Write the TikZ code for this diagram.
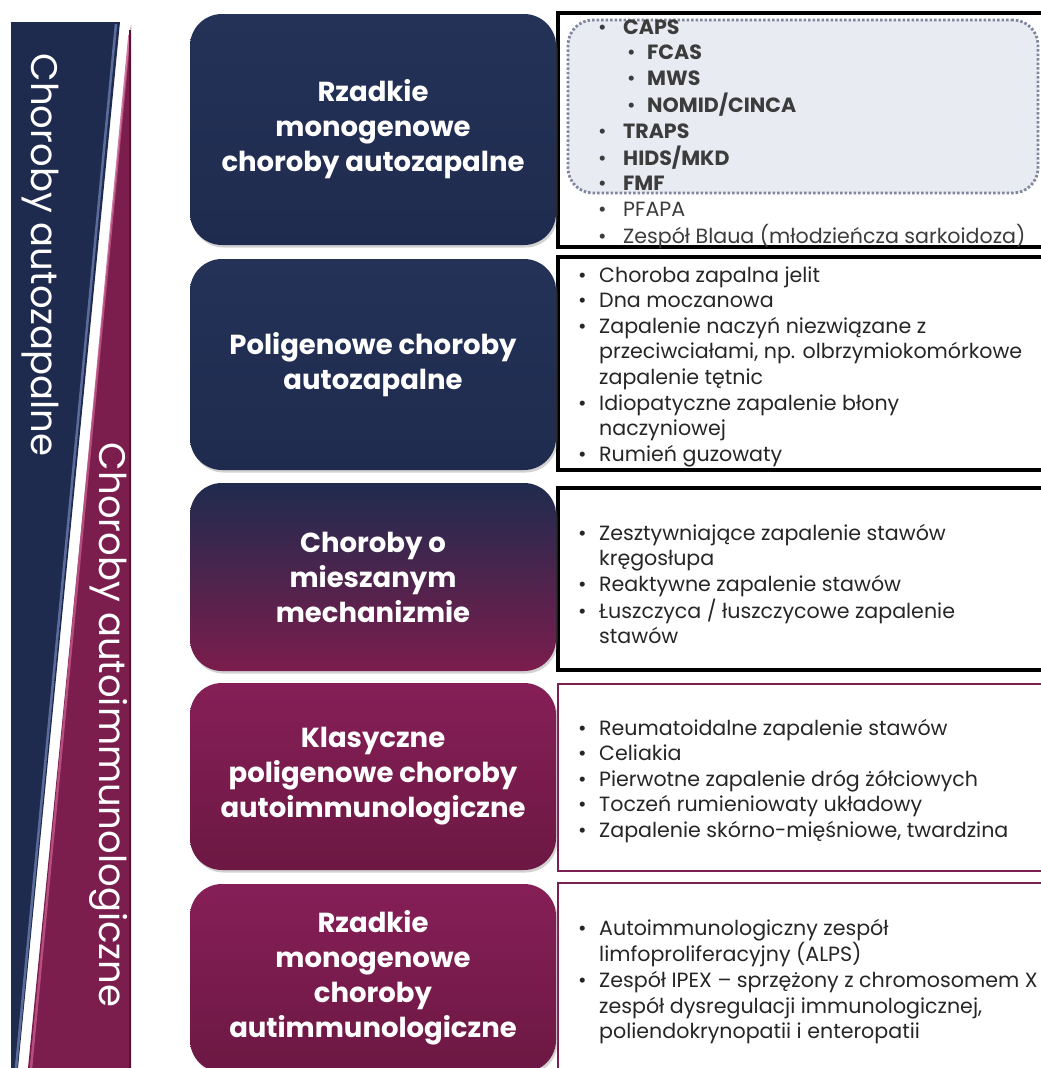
\documentclass[tikz,border=0pt]{standalone}
\usepackage{fontspec}
\setmainfont{Poppins}
\usetikzlibrary{shadows}
\definecolor{navy}{HTML}{1F2B4E}
\definecolor{navytop}{HTML}{243258}
\definecolor{navyhi}{HTML}{6A7DAE}
\definecolor{mag}{HTML}{7B1D4D}
\definecolor{magtop}{HTML}{861F57}
\definecolor{magbot}{HTML}{6C1843}
\definecolor{maghi}{HTML}{C45A8C}
\definecolor{magdk}{HTML}{571235}
\definecolor{dotfill}{HTML}{E9EBF3}
\definecolor{dotline}{HTML}{7F879E}
\definecolor{txt}{HTML}{262626}
\definecolor{txtb}{HTML}{3C3C3C}
\definecolor{magline}{HTML}{7A2050}
\newcommand\bi[1]{\makebox[21pt][l]{\textbullet}#1}
\newcommand\ci[1]{\hspace{21pt}#1}
\newcommand\bj[1]{\makebox[25pt][l]{\textbullet}#1}
\newcommand\sj[1]{\hspace{29pt}\makebox[20pt][l]{\textbullet}#1}
\begin{document}
\begin{tikzpicture}[x=1pt,y=-1pt,
  leftbox/.style={rounded corners=32pt, inner sep=0pt, align=center,
    text=white, font=\fontsize{27.5}{35}\selectfont\bfseries,
    drop shadow={opacity=0.35, shadow xshift=1.5pt, shadow yshift=-2.5pt}},
  navybox/.style={leftbox, top color=navytop, bottom color=navy},
  magbox/.style={leftbox, top color=magtop, bottom color=magbot},
  mixbox/.style={leftbox, top color=navy, bottom color=mag, middle color=mag!50!navy},
  rbox/.style={draw=black, line width=3.2pt, fill=white, inner sep=0pt},
  rboxm/.style={draw=magline, line width=2.6pt, fill=white, inner sep=0pt},
  list/.style={anchor=base west, inner sep=0pt, align=left, text=txt,
    font=\fontsize{20.6}{25.6}\selectfont},
  band/.style={rotate=-90, text=white, font=\fontsize{37}{37}\selectfont, inner sep=0pt}]
\useasboundingbox (0,0) rectangle (1041,1068);
\clip (0,0) rectangle (1041,1068);
\fill[white] (0,0) rectangle (1041,1068);

% left bands
\fill[navy] (11,22) -- (120,22) -- (18,1068) -- (11,1068) -- cycle;
\draw[navyhi, line width=2.5pt, opacity=0.8] (116,24) -- (16,1068);
\fill[mag] (131,25) -- (131,1068) -- (28,1068) -- cycle;
\draw[maghi, line width=2.5pt, opacity=0.8] (129.5,35) -- (31,1068);
\draw[magdk, line width=2.5pt] (129.8,30) -- (129.8,1068);
\node[band] (T1) at (40,255) {Choroby autozapalne};
\node[band] (T2) at (109,725) {Choroby autoimmunologiczne};

% right boxes
\node[rbox, minimum width=492pt, minimum height=234pt] (R1) at (804,130) {};
\node[rbox, minimum width=492pt, minimum height=213pt] (R2) at (804,363.5) {};
\node[rbox, minimum width=492pt, minimum height=182pt] (R3) at (804,579) {};
\node[rboxm, minimum width=492pt, minimum height=187pt] (R4) at (804,777.5) {};
\node[rboxm, minimum width=492pt, minimum height=197pt] (R5) at (804,981.5) {};

\node[draw=dotline, fill=dotfill, line width=2.8pt, dash pattern=on 2.5pt off 2pt,
  rounded corners=25pt, minimum width=470pt, minimum height=173pt, inner sep=0pt]
  (D) at (803,106.5) {};

% left boxes
\node[navybox, minimum width=366pt, minimum height=231pt] (L1) at (373,129.5)
  {Rzadkie\\monogenowe\\choroby autozapalne};
\node[navybox, minimum width=366pt, minimum height=211pt] (L2) at (373,364.5)
  {Poligenowe choroby\\autozapalne};
\node[mixbox, minimum width=366pt, minimum height=188pt] (L3) at (373,577)
  {Choroby o\\mieszanym\\mechanizmie};
\node[magbox, minimum width=366pt, minimum height=187pt] (L4) at (373,776.5)
  {Klasyczne\\poligenowe choroby\\autoimmunologiczne};
\node[magbox, minimum width=366pt, minimum height=188pt] (L5) at (373,978)
  {Rzadkie\\monogenowe\\choroby\\autimmunologiczne};

% lists
\node[list, text=txtb] (C1) at (598,34) {\begin{tabular}[t]{@{}l@{}}
\bj{\textbf{CAPS}}\\
\sj{\textbf{FCAS}}\\
\sj{\textbf{MWS}}\\
\sj{\textbf{NOMID/CINCA}}\\
\bj{\textbf{TRAPS}}\\
\bj{\textbf{HIDS/MKD}}\\
\bj{\textbf{FMF}}\\
\bj{PFAPA}\\
\bj{Zespół Blaua (młodzieńcza sarkoidoza)}
\end{tabular}};
\node[list] (C2) at (578,282) {\begin{tabular}[t]{@{}l@{}}
\bi{Choroba zapalna jelit}\\
\bi{Dna moczanowa}\\
\bi{Zapalenie naczyń niezwiązane z}\\
\ci{przeciwciałami, np. olbrzymiokomórkowe}\\
\ci{zapalenie tętnic}\\
\bi{Idiopatyczne zapalenie błony}\\
\ci{naczyniowej}\\
\bi{Rumień guzowaty}
\end{tabular}};
\node[list] (C3) at (578,540) {\begin{tabular}[t]{@{}l@{}}
\bi{Zesztywniające zapalenie stawów}\\
\ci{kręgosłupa}\\
\bi{Reaktywne zapalenie stawów}\\
\bi{Łuszczyca / łuszczycowe zapalenie}\\
\ci{stawów}
\end{tabular}};
\node[list] (C4) at (578,735) {\begin{tabular}[t]{@{}l@{}}
\bi{Reumatoidalne zapalenie stawów}\\
\bi{Celiakia}\\
\bi{Pierwotne zapalenie dróg żółciowych}\\
\bi{Toczeń rumieniowaty układowy}\\
\bi{Zapalenie skórno-mięśniowe, twardzina}
\end{tabular}};
\node[list] (C5) at (578,935) {\begin{tabular}[t]{@{}l@{}}
\bi{Autoimmunologiczny zespół}\\
\ci{limfoproliferacyjny (ALPS)}\\
\bi{Zespół IPEX – sprzężony z chromosomem X}\\
\ci{zespół dysregulacji immunologicznej,}\\
\ci{poliendokrynopatii i enteropatii}
\end{tabular}};
\end{tikzpicture}
\end{document}
